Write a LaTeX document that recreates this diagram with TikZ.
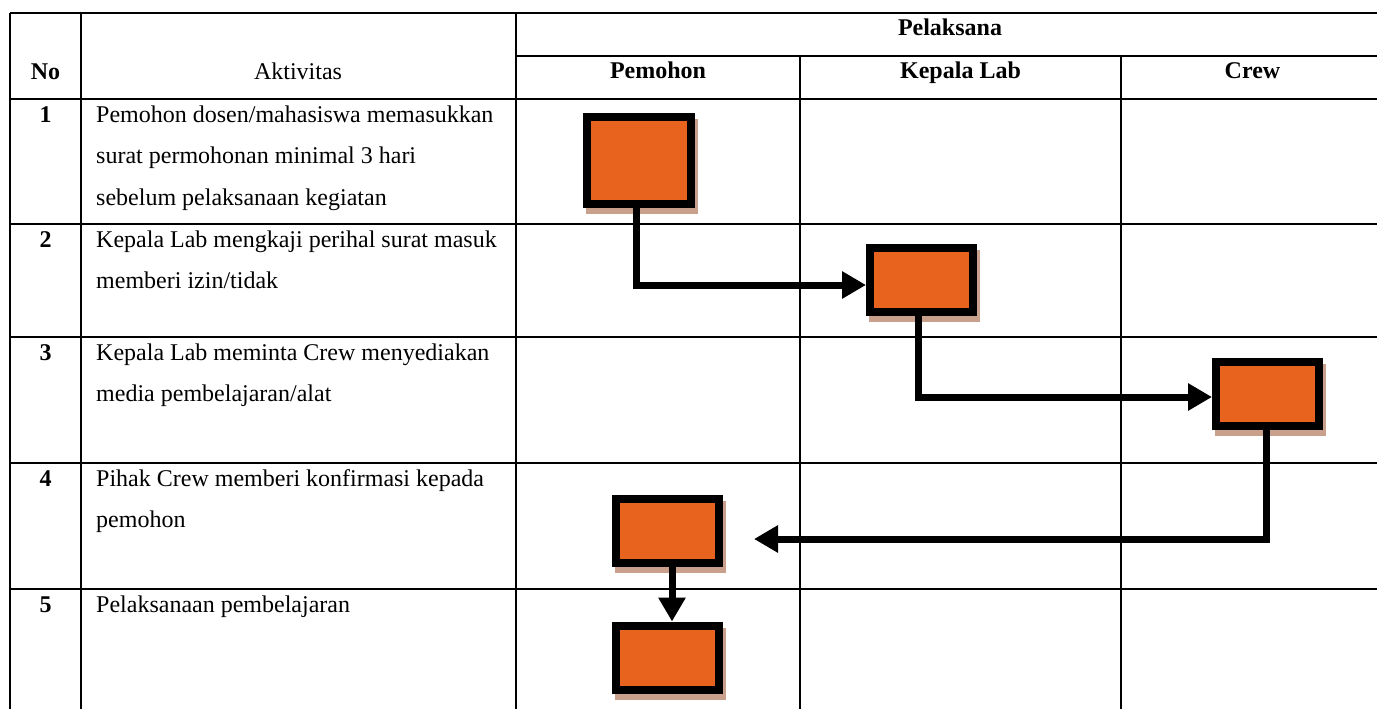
\documentclass[tikz,border=0pt]{standalone}
\usepackage{fontspec}
\setmainfont{Liberation Serif}
\usetikzlibrary{arrows.meta}
\definecolor{boxorange}{RGB}{232,100,30}
\definecolor{shadowtan}{RGB}{200,160,140}
\pgfdeclarelayer{tablelayer}
\pgfdeclarelayer{shadowlayer}
\pgfsetlayers{tablelayer,shadowlayer,main}
\begin{document}
\begin{tikzpicture}[x=1pt,y=-1pt, font=\fontsize{24}{28}\selectfont,
 grid/.style={line width=1.6pt},
 txt/.style={anchor=base west, inner sep=0pt},
 ctr/.style={anchor=base, inner sep=0pt},
 hd/.style={anchor=base, inner sep=0pt, font=\fontsize{24}{28}\selectfont\bfseries},
 box/.style={draw=black, fill=boxorange, line width=8pt, minimum width=103pt, minimum height=64pt, inner sep=0pt},
 flow/.style={line width=7pt, -{Triangle[length=24pt,width=26pt]}},
]
\useasboundingbox (0,0) rectangle (1377,709);
\clip (0,0) rectangle (1377,709);

\begin{pgfonlayer}{tablelayer}
\draw[grid] (10,13) -- (1384,13);
\draw[grid] (516,56) -- (1384,56);
\foreach \y in {99,224,337,463,589} \draw[grid] (10,\y) -- (1384,\y);
\draw[grid] (10,13) -- (10,720);
\draw[grid] (81,13) -- (81,720);
\draw[grid] (516,13) -- (516,720);
\draw[grid] (800,56) -- (800,720);
\draw[grid] (1121,56) -- (1121,720);
\draw[grid] (1384,13) -- (1384,720);
\end{pgfonlayer}

% headers
\node[hd] (hno) at (45.5,80) {No};
\node[ctr] (hakt) at (298,80) {Aktivitas};
\node[hd] (hpel) at (950,36) {Pelaksana};
\node[hd] (hpem) at (658,79) {Pemohon};
\node[hd] (hkep) at (960.5,79) {Kepala Lab};
\node[hd] (hcrew) at (1252.5,79) {Crew};

% row numbers
\node[hd] (n1) at (45.5,122) {1};
\node[hd] (n2) at (45.5,247) {2};
\node[hd] (n3) at (45.5,360) {3};
\node[hd] (n4) at (45.5,486) {4};
\node[hd] (n5) at (45.5,612) {5};

% activities
\node[txt] (t1a) at (96,122) {Pemohon dosen/mahasiswa memasukkan};
\node[txt] (t1b) at (96,163.5) {surat permohonan minimal 3 hari};
\node[txt] (t1c) at (96,205) {sebelum pelaksanaan kegiatan};
\node[txt] (t2a) at (96,247) {Kepala Lab mengkaji perihal surat masuk};
\node[txt] (t2b) at (96,288.5) {memberi izin/tidak};
\node[txt] (t3a) at (96,360) {Kepala Lab meminta Crew menyediakan};
\node[txt] (t3b) at (96,401.5) {media pembelajaran/alat};
\node[txt] (t4a) at (96,486) {Pihak Crew memberi konfirmasi kepada};
\node[txt] (t4b) at (96,527.5) {pemohon};
\node[txt] (t5a) at (96,612) {Pelaksanaan pembelajaran};

% boxes
\node[box, minimum height=87pt, minimum width=104pt] (b1) at (639,160.5) {};
\node[box] (b2) at (921.5,279.5) {};
\node[box] (b3) at (1267.5,393.5) {};
\node[box] (b4) at (667.5,531) {};
\node[box] (b5) at (667.5,657.5) {};

\begin{pgfonlayer}{shadowlayer}
\foreach \b in {b1,b2,b3,b4,b5}
  \fill[shadowtan] ([shift={(2.5,6)}]\b.south west) rectangle ([shift={(2.5,6)}]\b.north east);
\end{pgfonlayer}

% connectors
\coordinate (a3end) at (754,539);
\draw[flow] ([xshift=-3pt]b1.south) |- ([yshift=-5.5pt]b2.west);
\draw[flow] ([xshift=-3.5pt]b2.south) |- ([yshift=-3.5pt]b3.west);
\draw[flow] ([xshift=-1.5pt]b3.south) |- (a3end);
\draw[flow] ([xshift=4.5pt]b4.south) -- ([xshift=4.5pt]b5.north);
\end{tikzpicture}
\end{document}
